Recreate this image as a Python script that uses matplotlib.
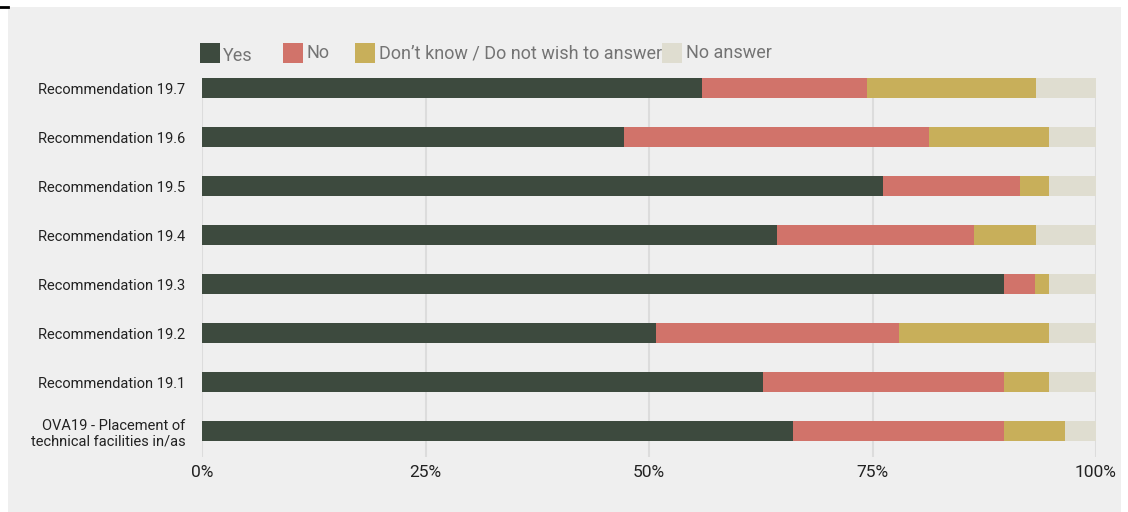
import numpy as np
import matplotlib.pyplot as plt
from matplotlib.patches import Rectangle
from matplotlib.lines import Line2D

plt.rcParams['font.family'] = ['Roboto', 'DejaVu Sans']

# survey answers per question, in percent (bottom row first)
questions = ['OVA19 - Placement of\ntechnical facilities in/as',
             'Recommendation 19.1', 'Recommendation 19.2', 'Recommendation 19.3',
             'Recommendation 19.4', 'Recommendation 19.5', 'Recommendation 19.6',
             'Recommendation 19.7']
yes = [66.1, 62.8, 50.8, 89.7, 64.3, 76.2, 47.2, 55.9]
no = [23.6, 26.9, 27.2, 3.5, 22.1, 15.3, 34.1, 18.5]
dont_know = [6.8, 5.0, 16.7, 1.5, 6.9, 3.2, 13.4, 18.9]
no_answer = [3.5, 5.3, 5.3, 5.3, 6.7, 5.3, 5.3, 6.7]

series = ['Yes', 'No', 'Don\u2019t know / Do not wish to answer', 'No answer']
colors = ['#3d4a3e', '#d1736a', '#c8af5a', '#dfddd0']
bg = '#efefef'

fig = plt.figure(figsize=(11.28, 5.12), dpi=100, facecolor='white')
# grey card behind the chart
fig.patches.append(Rectangle((8 / 1128, 0), 1113 / 1128, 505 / 512,
                             transform=fig.transFigure, facecolor=bg,
                             edgecolor='none', zorder=-10))
fig.lines.append(Line2D([0, 8 / 1128], [505.5 / 512, 505.5 / 512],
                        transform=fig.transFigure, color='black', lw=2))

ax = fig.add_axes([202 / 1128, 55 / 512, 894 / 1128, 379 / 512])
ax.set_facecolor(bg)

y = np.arange(len(questions))
left = np.zeros(len(questions))
for vals, color in zip([yes, no, dont_know, no_answer], colors):
    ax.barh(y, vals, left=left, height=0.41, color=color, zorder=3)
    left += np.array(vals)

ax.set_xlim(0, 100)
ax.set_ylim(-0.53, 7.205)
ax.set_xticks([0, 25, 50, 75, 100])
ax.set_xticklabels(['0%', '25%', '50%', '75%', '100%'], fontsize=12.5, color='#222222')
ax.set_yticks(y)
ax.set_yticklabels(questions, fontsize=10.5, color='#222222')
ax.tick_params(axis='x', length=0, pad=6)
ax.tick_params(axis='y', length=0, pad=12)
ax.grid(axis='x', color='#dcdcdc', lw=1.5, zorder=0)
for s in ax.spines.values():
    s.set_visible(False)

# legend row along the top
legend_x = [200, 283, 355, 662]
text_x = [223, 306, 379, 686]
text_y = [56, 53, 53, 53]
for lx, tx, ty, name, color in zip(legend_x, text_x, text_y, series, colors):
    fig.patches.append(Rectangle((lx / 1128, 1 - 63 / 512), 20 / 1128, 20 / 512,
                                 transform=fig.transFigure, facecolor=color,
                                 edgecolor='none'))
    fig.text(tx / 1128, 1 - ty / 512, name, fontsize=13, color='#747474',
             ha='left', va='center')

fig.savefig('out.png', dpi=100, facecolor='white')
